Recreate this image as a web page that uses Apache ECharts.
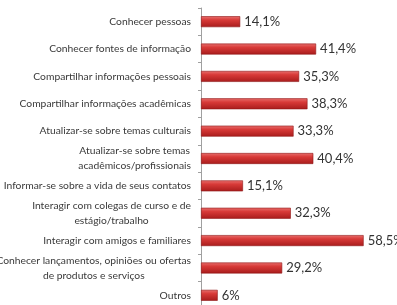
<!DOCTYPE html>
<html><head><meta charset="utf-8">
<script src="https://cdn.jsdelivr.net/npm/echarts@6/dist/echarts.min.js"></script>
<style>html,body{margin:0;padding:0;background:#fff}#c{width:397px;height:305px}</style>
</head><body><div id="c"></div>
<script>
const categories = [
  'Conhecer pessoas',
  'Conhecer fontes de informação',
  'Compartilhar informações pessoais',
  'Compartilhar informações acadêmicas',
  'Atualizar-se sobre temas culturais',
  'Atualizar-se sobre temas\nacadêmicos/profissionais',
  'Informar-se sobre a vida de seus contatos',
  'Interagir com colegas de curso e de\nestágio/trabalho',
  'Interagir com amigos e familiares',
  'Conhecer lançamentos, opiniões ou ofertas\nde produtos e serviços',
  'Outros'
];
const values = [14.1, 41.4, 35.3, 38.3, 33.3, 40.4, 15.1, 32.3, 58.5, 29.2, 6];
const valueLabels = ['14,1%', '41,4%', '35,3%', '38,3%', '33,3%', '40,4%', '15,1%', '32,3%', '58,5%', '29,2%', '6%'];

const chart = echarts.init(document.getElementById('c'));
chart.setOption({
  animation: false,
  grid: { left: 201, right: 29.2, top: 8, height: 301, containLabel: false, outerBoundsMode: 'none' },
  xAxis: { type: 'value', min: 0, max: 60, show: false },
  yAxis: {
    type: 'category', data: categories, inverse: true,
    axisLine: { show: true, lineStyle: { color: '#a0a0a0', width: 1 } },
    axisTick: { show: true, length: 3, lineStyle: { color: '#a0a0a0' } },
    axisLabel: {
      margin: 10, color: '#3a3a3a', fontFamily: 'Lato', fontSize: 10.3, lineHeight: 15,
      formatter: function (v) {
        return v.split('\n').map(function (l) { return '{c|' + l + '}'; }).join('\n');
      },
      rich: { c: { align: 'center', color: '#3a3a3a', fontFamily: 'Lato', fontSize: 10.3, lineHeight: 15 } }
    },
    splitLine: { show: false }
  },
  series: [{
    type: 'bar', data: values, barWidth: '40%',
    itemStyle: {
      color: new echarts.graphic.LinearGradient(0, 0, 0, 1, [
        { offset: 0, color: '#e8706e' },
        { offset: 0.35, color: '#d83a38' },
        { offset: 1, color: '#a81c1c' }
      ]),
      borderColor: '#8e1515', borderWidth: 0.6
    },
    label: {
      show: true, position: 'right', distance: 4,
      fontFamily: 'Lato', fontSize: 13, color: '#333',
      formatter: function (p) { return valueLabels[p.dataIndex]; }
    }
  }]
});
</script></body></html>
